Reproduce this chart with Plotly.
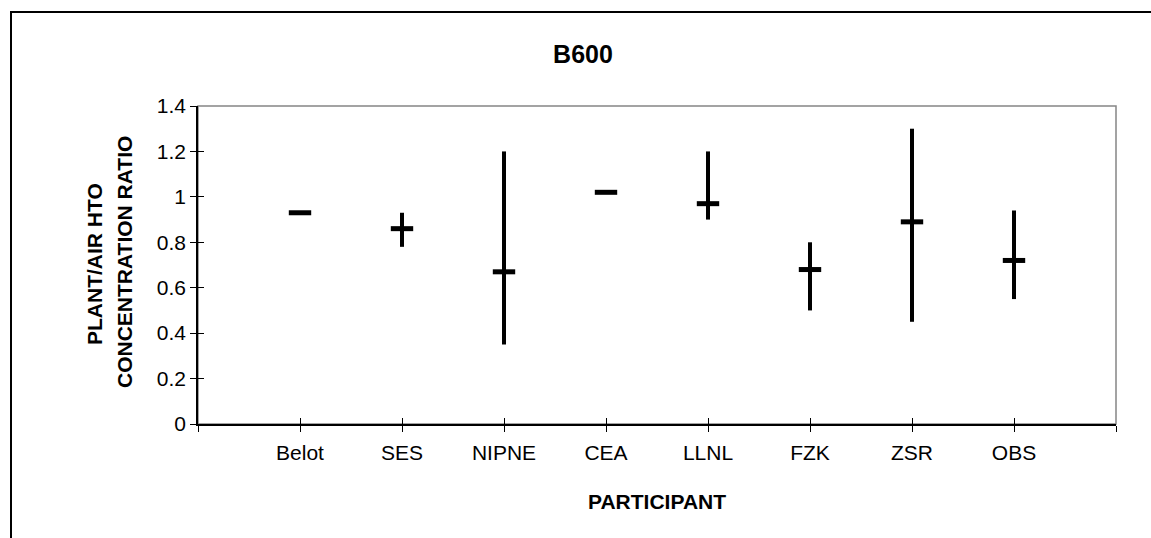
import plotly.graph_objects as go

# Participant results: central estimate with low/high range
participants = ["Belot", "SES", "NIPNE", "CEA", "LLNL", "FZK", "ZSR", "OBS"]
ratio_mid = [0.93, 0.86, 0.67, 1.02, 0.97, 0.68, 0.89, 0.72]
ratio_low = [0.93, 0.78, 0.35, 1.02, 0.90, 0.50, 0.45, 0.55]
ratio_high = [0.93, 0.93, 1.20, 1.02, 1.20, 0.80, 1.30, 0.94]

y_ticks = [0, 0.2, 0.4, 0.6, 0.8, 1.0, 1.2, 1.4]
y_tick_text = ["0", "0.2", "0.4", "0.6", "0.8", "1", "1.2", "1.4"]

FONT = "Liberation Sans, Arial, sans-serif"

x_pos = list(range(1, len(participants) + 1))
x_ticks = list(range(0, len(participants) + 2))
x_text = [""] + participants + [""]

err_plus = [h - m for h, m in zip(ratio_high, ratio_mid)]
err_minus = [m - l for m, l in zip(ratio_mid, ratio_low)]

fig = go.Figure()

fig.add_trace(go.Scatter(
    x=x_pos, y=ratio_mid,
    mode="markers",
    marker=dict(symbol="line-ew", size=16, color="black",
                line=dict(color="black", width=5)),
    error_y=dict(type="data", symmetric=False, array=err_plus,
                 arrayminus=err_minus, color="black", thickness=4, width=0),
    showlegend=False, hoverinfo="x+y",
))

# invisible trace on the overlay axes that carry the inner half of the ticks
fig.add_trace(go.Scatter(x=[0], y=[0], xaxis="x2", yaxis="y2",
                         mode="markers", marker=dict(opacity=0),
                         showlegend=False, hoverinfo="skip"))

x_range = [0, len(participants) + 1]
y_range = [0, 1.4]

fig.update_layout(
    width=1151, height=538,
    margin=dict(l=198, r=35, t=106, b=114),
    paper_bgcolor="white", plot_bgcolor="white",
    font=dict(family=FONT, color="black"),
    title=dict(text="<b>B600</b>", font=dict(size=25, family=FONT, color="black"),
               x=583 / 1151, xref="container", xanchor="center",
               y=1 - 54 / 538, yref="container", yanchor="middle"),
    xaxis=dict(range=x_range, tickmode="array", tickvals=x_ticks, ticktext=x_text,
               ticks="outside", ticklen=6, tickwidth=1, tickcolor="black",
               ticklabelstandoff=3,
               showline=True, linecolor="black", linewidth=1.5,
               showgrid=False, zeroline=False,
               tickfont=dict(size=21, family=FONT, color="black")),
    yaxis=dict(range=y_range, tickmode="array", tickvals=y_ticks,
               ticktext=y_tick_text,
               ticks="outside", ticklen=6, tickwidth=1, tickcolor="black",
               showline=True, linecolor="black", linewidth=1.5,
               showgrid=False, zeroline=False,
               tickfont=dict(size=21, family=FONT, color="black")),
    xaxis2=dict(range=x_range, overlaying="x", anchor="y2", side="bottom",
                tickmode="array", tickvals=x_ticks, showticklabels=False,
                ticks="inside", ticklen=6, tickwidth=1, tickcolor="black",
                showline=False, showgrid=False, zeroline=False),
    yaxis2=dict(range=y_range, overlaying="y", anchor="x2", side="left",
                tickmode="array", tickvals=y_ticks, showticklabels=False,
                ticks="inside", ticklen=6, tickwidth=1, tickcolor="black",
                showline=False, showgrid=False, zeroline=False),
)

# plot-area border (grey top and right edges)
fig.add_shape(type="rect", xref="paper", yref="paper", x0=0, y0=0, x1=1, y1=1,
              line=dict(color="#858585", width=1.5), layer="below")

# outer chart frame
fx = (11 - 198) / 918
fy = (424 - 12) / 318
fig.add_shape(type="path", xref="paper", yref="paper",
              path=f"M {fx},-0.5 L {fx},{fy} L 1.2,{fy}",
              line=dict(color="black", width=2))

# axis titles
fig.add_annotation(text="<b>PARTICIPANT</b>", xref="paper", yref="paper",
                   x=0.5, y=(424 - 501) / 318, xanchor="center", yanchor="middle",
                   showarrow=False, font=dict(size=21, family=FONT, color="black"))
fig.add_annotation(text="<b>PLANT/AIR HTO</b>", xref="paper", yref="paper",
                   x=(94 - 198) / 918, y=(424 - 264) / 318, textangle=-90,
                   xanchor="center", yanchor="middle", showarrow=False,
                   font=dict(size=21, family=FONT, color="black"))
fig.add_annotation(text="<b>CONCENTRATION RATIO</b>", xref="paper", yref="paper",
                   x=(124 - 198) / 918, y=(424 - 262) / 318, textangle=-90,
                   xanchor="center", yanchor="middle", showarrow=False,
                   font=dict(size=21, family=FONT, color="black"))

fig.write_html("out.html")
